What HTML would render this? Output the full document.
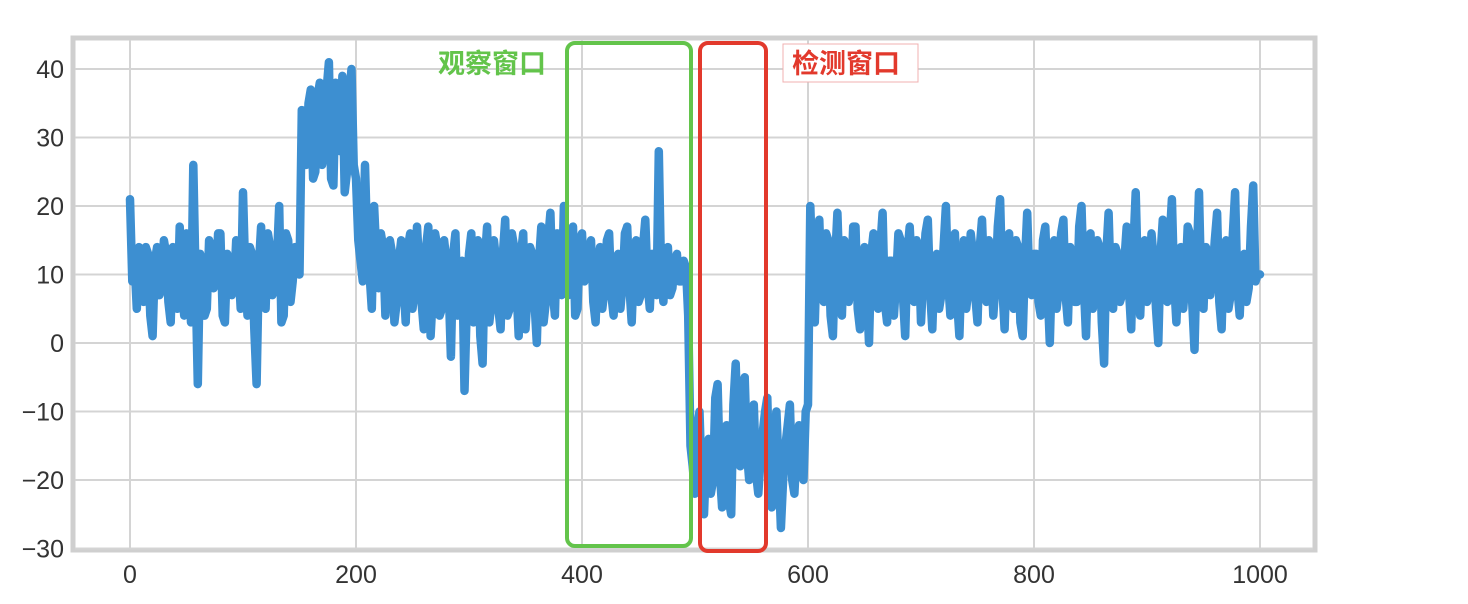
<!DOCTYPE html>
<html><head><meta charset="utf-8"><style>
html,body{margin:0;padding:0;background:#fff;}
svg{display:block;}
text{font-family:"Liberation Sans","Noto Sans CJK SC",sans-serif;}
</style></head><body>
<svg id="chart" width="1468" height="604" xmlns="http://www.w3.org/2000/svg">
<rect x="73" y="38" width="1242" height="512" fill="#fff" stroke="#cfcfcf" stroke-width="5"/>
<g id="grid"></g>
<g id="ticks"></g>
<g id="series"></g>
<rect x="567" y="43" width="124" height="503" rx="8" fill="none" stroke="#63c44b" stroke-width="4"/>
<rect x="700" y="43" width="66" height="508" rx="8" fill="none" stroke="#e2392c" stroke-width="4"/>
<text x="438" y="73" font-size="27" fill="#63c44b" font-weight="bold">观察窗口</text>
<rect x="783" y="44" width="135" height="38" fill="#fff" stroke="#f0b0b0" stroke-width="1"/>
<text x="792" y="73" font-size="27" fill="#e2392c" font-weight="bold">检测窗口</text>
</svg>
<script>
const xTicks=[0,200,400,600,800,1000];
const yTicks=[-30,-20,-10,0,10,20,30,40];
const xStep=2;
const values=[
21,9,12,5,14,10,6,14,13,4,1,12,14,7,8,15,13,6,3,14,12,5,17,9,4,16,11,3,26,10,-6,13,12,4,5,15,14,8,9,16,16,4,3,13,12,7,8,15,11,5,22,10,4,14,13,2,-6,11,17,6,5,16,14,7,8,12,20,3,4,16,15,6,9,14,13,10,
34,27,26,35,37,24,25,36,38,26,28,37,41,24,23,38,33,28,39,22,25,36,40,26,24,
15,12,9,26,14,10,5,20,13,8,16,14,4,9,15,13,3,6,12,15,9,3,14,16,5,8,17,11,6,2,14,17,1,7,16,14,4,5,15,12,8,-2,13,16,4,9,12,-7,5,13,16,3,8,15,1,-3,12,17,3,6,15,12,5,2,13,18,4,5,16,14,8,1,13,16,2,8,14,13,6,0,12,17,3,6,15,19,8,4,16,12,7,20,
10,7,14,17,4,5,15,16,9,10,13,15,6,3,12,14,5,8,15,16,7,4,12,13,5,9,16,17,8,3,12,15,6,7,14,18,9,5,13,12,7,28,10,6,13,14,7,8,12,13,9,9,12,11,
4,-15,-18,-22,-12,-10,-21,-25,-16,-14,-22,-20,-8,-6,-19,-24,-15,-12,-23,-25,-9,-3,-14,-18,-6,-5,-16,-20,-11,-9,-19,-22,-17,-13,-10,-8,-21,-24,-14,-10,-18,-27,-20,-15,-12,-9,-20,-22,-15,-12,-18,-20,-10,-9,
20,10,3,14,18,7,6,16,15,4,1,12,19,9,4,15,13,6,8,17,17,5,2,11,14,8,0,13,16,9,5,14,19,6,3,12,12,4,9,16,15,7,1,13,17,10,6,15,14,3,10,16,18,8,2,12,13,5,7,14,
20,9,4,15,16,6,1,12,15,5,8,16,13,7,3,14,18,9,6,15,12,4,9,17,21,8,2,13,16,6,5,15,14,3,1,12,19,8,7,13,
13,6,4,15,17,8,0,12,15,5,8,16,18,7,3,14,12,6,6,17,20,9,1,12,16,5,9,15,14,3,-3,13,19,8,5,14,13,6,7,12,
17,8,2,14,22,9,4,13,15,6,8,16,12,5,0,13,18,7,6,15,21,9,3,12,14,5,9,17,16,6,-1,12,22,8,5,14,13,7,10,15,
19,6,2,13,15,5,7,16,22,8,4,12,13,6,8,17,23,9,10,10];
const NS="http://www.w3.org/2000/svg";
const X=v=>130+v*1.13;
const Y=v=>343-v*6.85;
const grid=document.getElementById('grid'),ticks=document.getElementById('ticks'),series=document.getElementById('series');
function mk(tag,attrs,parent){const e=document.createElementNS(NS,tag);for(const k in attrs)e.setAttribute(k,attrs[k]);parent.appendChild(e);return e;}
xTicks.forEach(t=>{
  const g=mk('line',{x1:X(t),x2:X(t),y1:40,y2:548,stroke:'#d4d4d4','stroke-width':2},grid);
  
  
  const l=mk('text',{x:X(t),y:583,'font-size':25,fill:'#333','text-anchor':'middle'},ticks);
  l.textContent=t;
  
  
});
yTicks.forEach(t=>{
  const g=mk('line',{x1:75,x2:1313,y1:Y(t),y2:Y(t),stroke:'#d4d4d4','stroke-width':2},grid);
  
  
  const l=mk('text',{x:64,y:Y(t)+9,'font-size':25,fill:'#333','text-anchor':'end'},ticks);
  l.textContent=(t<0?'\u2212'+(-t):t);
  
  
});
const pts=values.map((v,i)=>X(Math.min(i*xStep,1000)).toFixed(1)+','+Y(v).toFixed(1)).join(' ');
const pl=mk('polyline',{points:pts,fill:'none',stroke:'#3d8fd1','stroke-width':8.5,'stroke-linejoin':'round','stroke-linecap':'round'},series);


</script>
</body></html>
